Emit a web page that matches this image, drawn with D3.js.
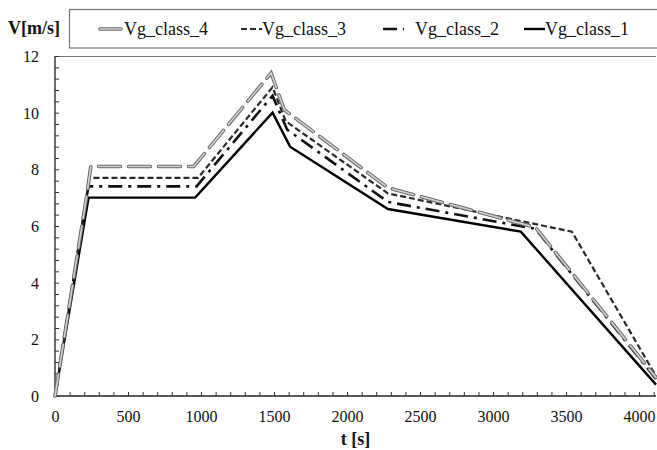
<!DOCTYPE html>
<html>
<head>
<meta charset="utf-8">
<script src="https://cdnjs.cloudflare.com/ajax/libs/d3/7.8.5/d3.min.js"></script>
<style>
  html, body { margin: 0; padding: 0; background: #fff; }
  svg, svg text { font-family: "Liberation Serif", "Times New Roman", serif !important; }
</style>
</head>
<body>
<svg id="chart" width="657" height="450"></svg>
<script>
// Gas velocity profiles over time for four classes
const seriesNames = ["Vg_class_4", "Vg_class_3", "Vg_class_2", "Vg_class_1"];
const class1T = [0, 230, 960, 1490, 1610, 2280, 3190, 4116];
const class1V = [0, 7.0, 7.0, 10.0, 8.8, 6.6, 5.8, 0.4];
const class2T = [0, 215, 230, 970, 1490, 1590, 2280, 3290, 4116];
const class2V = [0, 7.0, 7.4, 7.4, 10.6, 9.4, 6.85, 5.9, 0.6];
const class3T = [0, 215, 235, 980, 1490, 1580, 2280, 3540, 4116];
const class3V = [0, 7.0, 7.7, 7.7, 10.9, 9.7, 7.15, 5.8, 0.7];
const class4T = [0, 215, 245, 950, 1480, 1570, 2280, 3290, 4116];
const class4V = [0, 7.0, 8.1, 8.1, 11.4, 10.1, 7.35, 5.95, 0.65];
const xTicks = [0, 500, 1000, 1500, 2000, 2500, 3000, 3500, 4000];
const yTicks = [0, 2, 4, 6, 8, 10, 12];

const svg = d3.select("#chart");
const mLeft = 55, mRight = 656, mTop = 56, mBottom = 396;
const serif = '"Liberation Serif", "Times New Roman", serif';

const x = d3.scaleLinear().domain([0, 4116]).range([mLeft, mRight]);
const y = d3.scaleLinear().domain([0, 12]).range([mBottom, mTop]);

// Plot frame: top border line
svg.append("line")
  .attr("x1", mLeft).attr("x2", mRight).attr("y1", mTop + 0.5).attr("y2", mTop + 0.5)
  .attr("stroke", "#777").attr("stroke-width", 1.2);

// Axes with inward ticks
const xAxis = d3.axisBottom(x).tickValues(d3.range(0, 4101, 100))
  .tickSize(-4).tickPadding(15)
  .tickFormat(d => xTicks.includes(d) ? d : "");
const gx = svg.append("g").attr("transform", `translate(0,${mBottom})`).call(xAxis);
gx.select(".domain").attr("d", `M${mLeft},0H${mRight}`);

const yAxis = d3.axisLeft(y).tickValues(d3.range(0, 12.01, 0.4).map(v => +v.toFixed(1)))
  .tickSize(-4).tickPadding(16)
  .tickFormat(d => yTicks.includes(d) ? d : "");
const gy = svg.append("g").attr("transform", `translate(${mLeft},0)`).call(yAxis);
gy.select(".domain").attr("d", `M0,${mBottom}V${mTop}`);

svg.selectAll("g").attr("font-family", serif);
svg.selectAll(".domain").attr("stroke", "#222").attr("stroke-width", 1.3);
svg.selectAll(".tick line").attr("stroke", "#333").attr("stroke-width", 1);
svg.selectAll(".tick text").attr("font-size", 16).attr("fill", "#111")
  .style("font-family", serif);
gy.selectAll(".tick text").attr("dy", "0.35em");

// Axis titles
svg.append("text").attr("x", (mLeft + mRight) / 2).attr("y", 445)
  .attr("text-anchor", "middle").attr("font-size", 18).attr("font-weight", "bold")
  .attr("fill", "#111").style("font-family", serif).text("t [s]");
svg.append("text").attr("x", 8).attr("y", 34)
  .attr("font-size", 18).attr("font-weight", "bold")
  .attr("fill", "#111").style("font-family", serif).text("V[m/s]");

const line = d3.line().x(d => x(d[0])).y(d => y(d[1]));
const zip = (ts, vs) => ts.map((t, i) => [t, vs[i]]);

const series = [
  { name: "Vg_class_1", data: zip(class1T, class1V) },
  { name: "Vg_class_2", data: zip(class2T, class2V) },
  { name: "Vg_class_3", data: zip(class3T, class3V) },
  { name: "Vg_class_4", data: zip(class4T, class4V) }
];

// Draw a path in the style of its class
function drawStyled(g, name, d) {
  if (name === "Vg_class_4") {
    g.append("path").attr("d", d).attr("fill", "none")
      .attr("stroke", "#6a6a6a").attr("stroke-width", 3.6)
      .attr("stroke-dasharray", "22,8").attr("stroke-linecap", "round");
    g.append("path").attr("d", d).attr("fill", "none")
      .attr("stroke", "#d2d2d2").attr("stroke-width", 1.6)
      .attr("stroke-dasharray", "22,8").attr("stroke-linecap", "round");
  } else if (name === "Vg_class_3") {
    g.append("path").attr("d", d).attr("fill", "none")
      .attr("stroke", "#2a2a2a").attr("stroke-width", 2.2)
      .attr("stroke-dasharray", "6,3");
  } else if (name === "Vg_class_2") {
    g.append("path").attr("d", d).attr("fill", "none")
      .attr("stroke", "#111").attr("stroke-width", 2.6)
      .attr("stroke-dasharray", "14,6,3,6");
  } else {
    g.append("path").attr("d", d).attr("fill", "none")
      .attr("stroke", "#000").attr("stroke-width", 2.4)
      .attr("stroke-linejoin", "miter");
  }
}

const plotG = svg.append("g");
series.forEach(s => drawStyled(plotG, s.name, line(s.data)));

// Legend box
svg.append("rect").attr("x", 69.5).attr("y", 9.5).attr("width", 590).attr("height", 38.5)
  .attr("fill", "#fff").attr("stroke", "#777").attr("stroke-width", 1.2);

const legendX = [100, 241, 383, 524];
const legendTextX = [124, 262, 415, 545];
const legendY = 29;
seriesNames.forEach((name, i) => {
  const g = svg.append("g");
  drawStyled(g, name, `M${legendX[i]},${legendY}H${legendX[i] + 21}`);
  svg.append("text").attr("x", legendTextX[i]).attr("y", legendY + 6)
    .attr("font-size", 18).attr("fill", "#111").style("font-family", serif).text(name);
});
</script>
</body>
</html>
